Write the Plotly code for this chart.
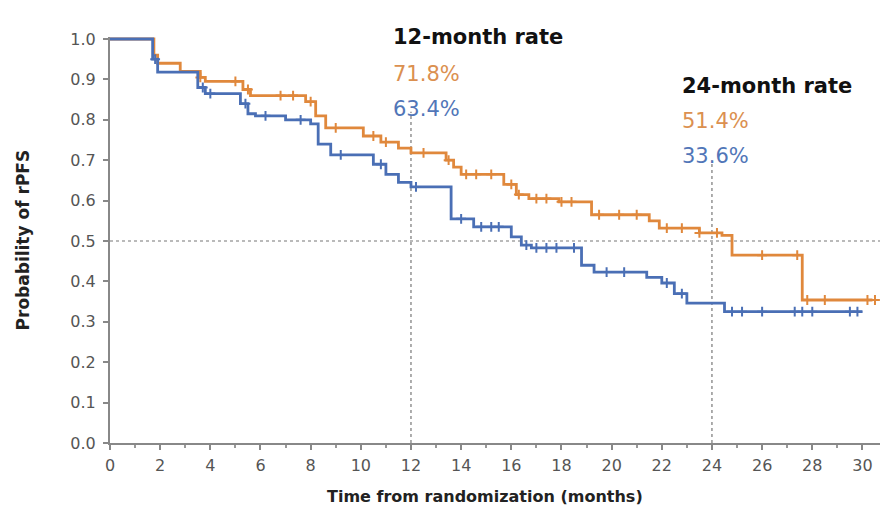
import plotly.graph_objects as go
import numpy as np

# Kaplan-Meier step data (months, survival probability)
orange_t = [0, 1.75, 1.9, 2.8, 3.6, 3.8, 5.3, 5.6, 7.8, 8.2, 8.6, 10.1, 10.8, 11.5, 12.0,
            13.4, 13.7, 14.0, 15.7, 16.2, 16.7, 17.9, 19.2, 21.5, 21.9, 23.5, 24.4, 24.8,
            27.6, 30.4]
orange_s = [1.0, 0.96, 0.94, 0.92, 0.905, 0.895, 0.875, 0.86, 0.845, 0.81, 0.78, 0.76, 0.745,
            0.73, 0.718, 0.70, 0.683, 0.665, 0.64, 0.615, 0.605, 0.597, 0.565, 0.55, 0.532,
            0.52, 0.514, 0.465, 0.354, 0.354]
blue_t = [0, 1.7, 1.9, 3.5, 3.8, 5.2, 5.5, 5.8, 7.0, 8.0, 8.3, 8.8, 10.5, 11.0, 11.5, 12.0,
          13.6, 14.5, 16.0, 16.4, 16.8, 18.8, 19.3, 21.4, 22.0, 22.5, 23.0, 24.5, 30.0]
blue_s = [1.0, 0.95, 0.918, 0.88, 0.865, 0.84, 0.815, 0.81, 0.80, 0.79, 0.74, 0.713, 0.69,
          0.665, 0.645, 0.634, 0.555, 0.535, 0.51, 0.49, 0.483, 0.44, 0.423, 0.41, 0.396,
          0.37, 0.346, 0.325, 0.325]

orange_cens = [3.6, 5.0, 5.5, 6.8, 7.3, 8.0, 9.0, 10.5, 11.0, 12.5, 13.5, 14.2, 14.6, 15.2,
               16.0, 16.3, 17.0, 17.4, 18.0, 18.4, 19.5, 20.3, 21.0, 22.2, 22.8, 23.5, 24.2,
               26.0, 27.4, 27.8, 28.5, 30.2, 30.5]
blue_cens = [1.8, 3.7, 4.0, 5.4, 6.2, 7.6, 9.2, 10.8, 12.2, 14.0, 14.8, 15.2, 15.5, 16.6,
             17.0, 17.4, 17.8, 18.5, 19.8, 20.5, 22.2, 22.8, 24.8, 25.2, 26.0, 27.3, 27.6,
             28.0, 29.5, 29.8]

x_ticks = list(range(0, 31, 2))
y_ticks = [round(i * 0.1, 1) for i in range(11)]

rate12 = ["71.8%", "63.4%"]
rate24 = ["51.4%", "33.6%"]

ORANGE = "#E0883C"
BLUE = "#4A6FB5"
ORANGE_TXT = "#DB9050"
BLUE_TXT = "#5176B8"
FONT = "DejaVu Sans"


def step_at(t, times, surv):
    idx = np.searchsorted(times, t, side="right") - 1
    return [surv[max(i, 0)] for i in np.atleast_1d(idx)]


fig = go.Figure()
for t, s, c, cens in [(orange_t, orange_s, ORANGE, orange_cens),
                      (blue_t, blue_s, BLUE, blue_cens)]:
    fig.add_trace(go.Scatter(x=t, y=s, mode="lines", line=dict(color=c, width=2.8, shape="hv"),
                             showlegend=False, hoverinfo="skip"))
    fig.add_trace(go.Scatter(x=cens, y=step_at(cens, t, s), mode="markers",
                             marker=dict(symbol="cross-thin-open", size=7, color=c,
                                         line=dict(color=c, width=2)),
                             showlegend=False, hoverinfo="skip"))

dash = dict(color="#777", width=1.2, dash="dot")
fig.add_shape(type="line", x0=0, x1=30.7, y0=0.5, y1=0.5, line=dash, layer="below")
fig.add_shape(type="line", x0=12, x1=12, y0=0, y1=0.82, line=dash, layer="below")
fig.add_shape(type="line", x0=24, x1=24, y0=0, y1=0.70, line=dash, layer="below")

RATE_SIZE = 21
for x, ys, title, vals in [(11.2, (1.0345, 0.9433, 0.8571), "12-month rate", rate12),
                           (22.73, (0.9138, 0.8276, 0.7414), "24-month rate", rate24)]:
    fig.add_annotation(x=x, y=ys[0], yref="paper", text="<b>" + title + "</b>",
                       showarrow=False, xanchor="left",
                       font=dict(family=FONT, size=RATE_SIZE, color="#111"))
    fig.add_annotation(x=x, y=ys[1], yref="paper", text=vals[0], showarrow=False,
                       xanchor="left", font=dict(family=FONT, size=RATE_SIZE, color=ORANGE_TXT))
    fig.add_annotation(x=x, y=ys[2], yref="paper", text=vals[1], showarrow=False,
                       xanchor="left", font=dict(family=FONT, size=RATE_SIZE, color=BLUE_TXT))

fig.add_annotation(xref="paper", yref="paper", x=-0.128, y=0.5, textangle=-90,
                   text="<b>Probability of rPFS</b>", showarrow=False,
                   font=dict(family=FONT, size=17, color="#222"))
fig.add_annotation(xref="paper", yref="paper", x=0.487, y=-0.16,
                   text="<b>Time from randomization (months)</b>", showarrow=False,
                   font=dict(family=FONT, size=16, color="#222"))

fig.update_layout(
    width=883, height=509,
    margin=dict(l=110, r=3, t=37, b=66),
    paper_bgcolor="white", plot_bgcolor="white",
    font=dict(family=FONT, size=16, color="#555"),
    xaxis=dict(range=[0, 30.7], tickvals=x_ticks, showgrid=False, zeroline=False,
               showline=True, linecolor="#888", linewidth=2, ticks="outside",
               ticklen=5, tickcolor="#888", tickwidth=1.5, ticklabelstandoff=2,
               minor=dict(dtick=1, ticks="outside", ticklen=3, tickcolor="#999")),
    yaxis=dict(range=[0, 1.005], tickvals=y_ticks, tickformat=".1f", showgrid=False,
               zeroline=False, showline=True, linecolor="#888", linewidth=2,
               ticks="outside", ticklen=5, tickcolor="#888", tickwidth=1.5,
               ticklabelstandoff=4),
)

fig.write_html("out.html")
